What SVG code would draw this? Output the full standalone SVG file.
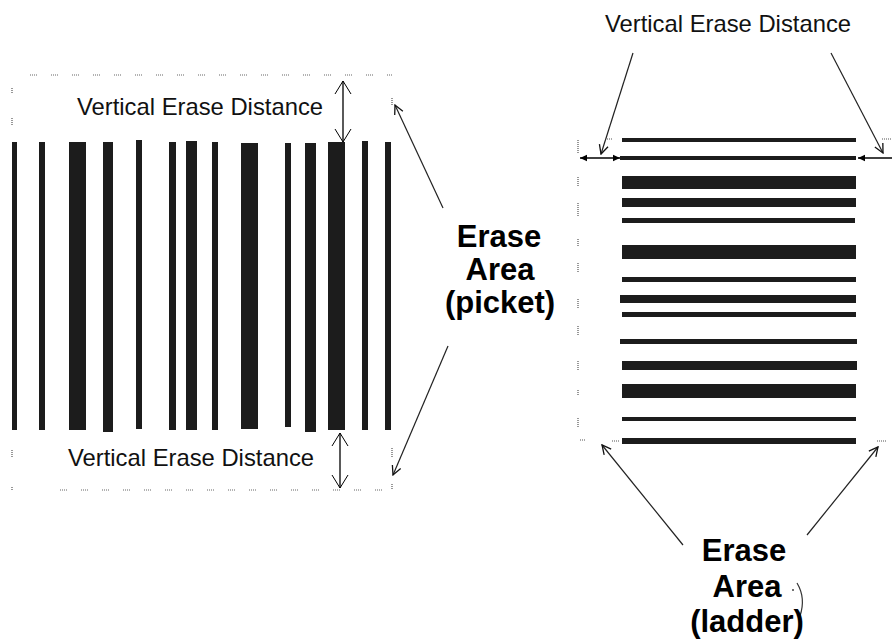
<svg xmlns="http://www.w3.org/2000/svg" width="892" height="641" viewBox="0 0 892 641">
<style>
.bar{fill:#1c1c1c}
.lbl{font-family:"Liberation Sans",Arial,sans-serif;font-size:23.8px;fill:#111}
.big{font-family:"Liberation Sans",Arial,sans-serif;font-size:31px;font-weight:bold;fill:#000;text-anchor:middle}
.dots{stroke:#555;stroke-width:1.2;stroke-dasharray:1 1;fill:none}
.dotsg{stroke:#666;stroke-width:1.2;stroke-dasharray:1 1 1 1 1 1 1 14;fill:none}
.vd{stroke:#000;stroke-width:1.3;fill:none}
.dg{stroke:#222;stroke-width:1.2;fill:none}
</style>
<defs>
<marker id="bigV" viewBox="-14 -9 15 18" refX="0" refY="0" markerWidth="15" markerHeight="18" markerUnits="userSpaceOnUse" orient="auto-start-reverse">
<path d="M-13,-8 L0,0 L-13,8" fill="none" stroke="#000" stroke-width="1"/>
</marker>
<marker id="smallV" viewBox="-10 -6 11 12" refX="0" refY="0" markerWidth="11" markerHeight="12" markerUnits="userSpaceOnUse" orient="auto-start-reverse">
<path d="M-9,-4.5 L0,0 L-9,4.5" fill="none" stroke="#111" stroke-width="1.3"/>
</marker>
<marker id="fill" viewBox="-8 -4 9 8" refX="0" refY="0" markerWidth="9" markerHeight="8" markerUnits="userSpaceOnUse" orient="auto-start-reverse">
<path d="M-7,-3.2 L0,0 L-7,3.2 z" fill="#000"/>
</marker>
</defs>
<rect width="892" height="641" fill="#fff"/>

<g id="picket-frame">
<path class="dotsg" d="M30,75 H392 M60,490 H392"/>
<path class="dots" d="M12,88 V94 M12,118 V126 M12,450 V457 M12,487 V491 M392,98 V106 M392,448 V457 M392,484 V490"/>
</g>

<g id="picket-barcode">
<rect class="bar" x="12" y="142" width="5" height="288"/>
<rect class="bar" x="39" y="142" width="6" height="288"/>
<rect class="bar" x="69" y="142" width="17" height="288"/>
<rect class="bar" x="103" y="142" width="10" height="290"/>
<rect class="bar" x="136" y="140" width="6" height="289"/>
<rect class="bar" x="169" y="142" width="7" height="288"/>
<rect class="bar" x="186" y="141" width="11" height="289"/>
<rect class="bar" x="212" y="142" width="6" height="288"/>
<rect class="bar" x="241" y="143" width="17" height="286"/>
<rect class="bar" x="285" y="143" width="6" height="284"/>
<rect class="bar" x="305" y="143" width="11" height="289"/>
<rect class="bar" x="328" y="142" width="17" height="288"/>
<rect class="bar" x="362" y="141" width="6" height="289"/>
<rect class="bar" x="385" y="142" width="6" height="288"/>
</g>

<g id="ladder-frame">
<path class="dots" d="M578,140 V153 M578,177 V186 M578,203 V216 M578,239 V247 M578,263 V273 M578,299 V308 M578,326 V335 M578,361 V371 M578,390 V395 M578,418 V428 M580,440 H586 M612,441 H620 M877,441 H887 M607,139 H613 M882,139 H892"/>
</g>

<g id="ladder-barcode">
<rect class="bar" x="622" y="138" width="234" height="4"/>
<rect class="bar" x="620" y="156" width="236" height="4"/>
<rect class="bar" x="622" y="176" width="234" height="13"/>
<rect class="bar" x="622" y="198" width="234" height="9"/>
<rect class="bar" x="622" y="218" width="233" height="5"/>
<rect class="bar" x="622" y="245" width="234" height="14"/>
<rect class="bar" x="622" y="277" width="234" height="5"/>
<rect class="bar" x="620" y="295" width="236" height="8"/>
<rect class="bar" x="622" y="312" width="234" height="5"/>
<rect class="bar" x="620" y="339" width="237" height="5"/>
<rect class="bar" x="622" y="361" width="235" height="9"/>
<rect class="bar" x="622" y="384" width="234" height="14"/>
<rect class="bar" x="622" y="417" width="234" height="4"/>
<rect class="bar" x="622" y="438" width="234" height="6"/>
</g>

<g id="connectors">
<line class="vd" x1="343" y1="81" x2="343" y2="142" marker-start="url(#bigV)" marker-end="url(#bigV)"/>
<line class="vd" x1="340" y1="433" x2="340" y2="488" marker-start="url(#bigV)" marker-end="url(#bigV)"/>
<line class="dg" x1="443" y1="208" x2="395" y2="105" marker-end="url(#smallV)"/>
<line class="dg" x1="448" y1="346" x2="393" y2="475" marker-end="url(#smallV)"/>
<line class="dg" x1="633" y1="53" x2="601" y2="154" marker-end="url(#smallV)"/>
<line class="dg" x1="831" y1="53" x2="883" y2="153" marker-end="url(#smallV)"/>
<line class="dg" x1="683" y1="545" x2="602" y2="445" marker-end="url(#smallV)"/>
<line class="dg" x1="807" y1="535" x2="878" y2="447" marker-end="url(#smallV)"/>
<line x1="580" y1="158" x2="620" y2="158" stroke="#000" stroke-width="1.3" marker-start="url(#fill)" marker-end="url(#fill)"/>
<line x1="892" y1="158" x2="858" y2="158" stroke="#000" stroke-width="1.3" marker-end="url(#fill)"/>
<path d="M797,583 Q806,598 800,616" fill="none" stroke="#333" stroke-width="1.2"/>
<circle cx="793" cy="590" r="1" fill="#444"/>
</g>

<g id="labels">
<text class="lbl" x="77" y="115">Vertical Erase Distance</text>
<text class="lbl" x="68" y="466">Vertical Erase Distance</text>
<text class="lbl" x="605" y="32">Vertical Erase Distance</text>
<text class="big" x="499" y="247">Erase</text>
<text class="big" x="500" y="280">Area</text>
<text class="big" x="500" y="313">(picket)</text>
<text class="big" x="744" y="561">Erase</text>
<text class="big" x="747" y="597">Area</text>
<text class="big" x="747" y="632">(ladder)</text>
</g>
</svg>
